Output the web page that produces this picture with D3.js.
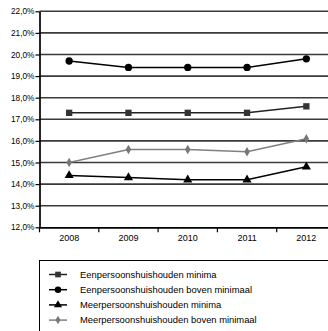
<!DOCTYPE html>
<html><head><meta charset="utf-8">
<script src="https://cdn.jsdelivr.net/npm/d3@7"></script>
<style>body{margin:0;background:#fff;overflow:hidden}svg{display:block;font-family:"Liberation Sans",Arial,sans-serif}</style>
</head><body>
<svg id="c" width="328" height="331"></svg>
<script>
const years = ["2008","2009","2010","2011","2012"];
const yTicks = [12,13,14,15,16,17,18,19,20,21,22];
const eenMinima = [17.3,17.3,17.3,17.3,17.6];
const eenBoven = [19.7,19.4,19.4,19.4,19.8];
const meerMinima = [14.4,14.3,14.2,14.2,14.8];
const meerBoven = [15.0,15.6,15.6,15.5,16.1];
const seriesNames = ["Eenpersoonshuishouden minima","Eenpersoonshuishouden boven minimaal","Meerpersoonshuishouden minima","Meerpersoonshuishouden boven minimaal"];

const series = [
  {name:seriesNames[0], values:eenMinima, color:"#333", line:"#222", sym:d3.symbolSquare, size:40},
  {name:seriesNames[1], values:eenBoven, color:"#000", line:"#000", sym:d3.symbolCircle, size:42},
  {name:seriesNames[2], values:meerMinima, color:"#000", line:"#000", sym:d3.symbolTriangle, size:36},
  {name:seriesNames[3], values:meerBoven, color:"#777", line:"#808080", sym:d3.symbolDiamond, size:26}
];

const svg = d3.select("#c");
const left = 39.5, bandW = 59.3;
const x = d3.scaleBand().domain(years).range([left, left + bandW*years.length]);
const y = d3.scaleLinear().domain([12,22]).range([227.3, 11.3]);
const fmt = v => d3.format(".1f")(v).replace(".", ",") + "%";

// gridlines
svg.append("g").selectAll("line").data(yTicks.filter(t=>t>12)).join("line")
  .attr("x1", left).attr("x2", 328)
  .attr("y1", d=>y(d)).attr("y2", d=>y(d))
  .attr("stroke", "#3a3a3a").attr("stroke-width", 1.6);

// y axis
const ya = svg.append("g").attr("transform", `translate(${left},0)`)
  .call(d3.axisLeft(y).tickValues(yTicks).tickFormat(fmt).tickSize(4).tickSizeOuter(0));
ya.select(".domain").attr("stroke","#000").attr("stroke-width",1.7);
ya.selectAll(".tick line").attr("stroke","#000").attr("stroke-width",1.2);
ya.selectAll("text").attr("font-size", 8.3).attr("fill","#000").attr("font-family","Liberation Sans, Arial, sans-serif").attr("x",-5);

// x axis
const xa = svg.append("g").attr("transform", `translate(0,${y(12)})`)
  .call(d3.axisBottom(x).tickSize(0).tickSizeOuter(0));
xa.select(".domain").attr("stroke","#000").attr("stroke-width",1.7);
xa.selectAll("text").attr("font-size", 9).attr("fill","#000").attr("dy","1.1em").attr("y",3.5).attr("font-family","Liberation Sans, Arial, sans-serif");
// category boundary ticks
svg.append("g").selectAll("line").data(years).join("line")
  .attr("x1", d=>x(d)).attr("x2", d=>x(d))
  .attr("y1", y(12)).attr("y2", y(12)+5)
  .attr("stroke","#000").attr("stroke-width",1.2);

const cx = d => x(d) + x.bandwidth()/2;
const line = d3.line().x((d,i)=>cx(years[i])).y(d=>y(d));

series.forEach(s => {
  svg.append("path").attr("d", line(s.values)).attr("fill","none")
    .attr("stroke", s.line).attr("stroke-width", 1.5);
  svg.append("g").selectAll("path").data(s.values).join("path")
    .attr("transform", (d,i)=>`translate(${cx(years[i])},${y(d)})`)
    .attr("d", d3.symbol().type(s.sym).size(s.size)).attr("fill", s.color);
});

// legend
svg.append("rect").attr("x", 39.5).attr("y", 260.5).attr("width", 300).attr("height", 80)
  .attr("fill","none").attr("stroke","#000").attr("stroke-width",1);
const lg = svg.append("g").selectAll("g").data(series).join("g")
  .attr("transform", (d,i)=>`translate(0,${274.5 + i*15.2})`);
lg.append("line").attr("x1",49).attr("x2",67).attr("y1",0).attr("y2",0)
  .attr("stroke", d=>d.line).attr("stroke-width",1.5);
lg.append("path").attr("transform","translate(58,0)")
  .attr("d", d=>d3.symbol().type(d.sym).size(d.size*0.8)()).attr("fill", d=>d.color);
lg.append("text").attr("x",80).attr("y",0).attr("dy","0.35em")
  .attr("font-size",9.4).attr("fill","#000").text(d=>d.name);
</script>
</body></html>
